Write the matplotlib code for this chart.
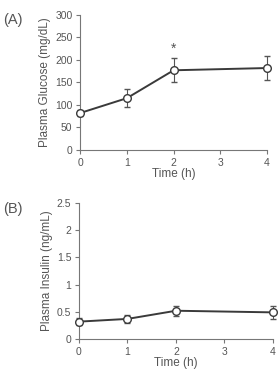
import numpy as np
import matplotlib
matplotlib.use("Agg")
import matplotlib.pyplot as plt

plt.rcParams['font.family'] = ['Liberation Sans', 'DejaVu Sans']

hours = [0, 1, 2, 4]
xticks = [0, 1, 2, 3, 4]

glucose = [82, 115, 177, 182]
glucose_err = [7, 20, 27, 27]
glucose_ticks = [0, 50, 100, 150, 200, 250, 300]

insulin = [0.32, 0.37, 0.52, 0.49]
insulin_err = [0.07, 0.07, 0.09, 0.12]
insulin_ticks = [0, 0.5, 1, 1.5, 2, 2.5]
insulin_labels = ['0', '0.5', '1', '1.5', '2', '2.5']

line_col = '#3a3a3a'
text_col = '#555555'

fig = plt.figure(figsize=(2.8, 3.73), dpi=100)
axA = fig.add_axes([0.286, 0.598, 0.668, 0.362])
axB = fig.add_axes([0.282, 0.091, 0.693, 0.365])


def style(ax):
    ax.spines['top'].set_visible(False)
    ax.spines['right'].set_visible(False)
    for s in ('left', 'bottom'):
        ax.spines[s].set_color('#777777')
        ax.spines[s].set_linewidth(0.8)
    ax.tick_params(colors='#777777', labelcolor=text_col, labelsize=7.5,
                   length=3, width=0.8, pad=2.5)
    ax.set_xlim(0, 4)
    ax.set_xticks(xticks)
    ax.set_xlabel('Time (h)', fontsize=8.5, color=text_col, labelpad=0)


def series(ax, y, err):
    ax.errorbar(hours, y, yerr=err, color=line_col, lw=1.4, elinewidth=0.8,
                ecolor='#555555', capsize=2.5, capthick=0.8, marker='o',
                markersize=5.5, markerfacecolor='white', markeredgecolor=line_col,
                markeredgewidth=1.0, clip_on=False, zorder=3)


series(axA, glucose, glucose_err)
style(axA)
axA.set_ylim(0, 300)
axA.set_yticks(glucose_ticks)
axA.set_ylabel('Plasma Glucose (mg/dL)', fontsize=8.5, color=text_col, labelpad=3)
axA.text(2, glucose[2] + glucose_err[2] + 6, '*', ha='center', va='bottom',
         fontsize=10, color=text_col)
fig.text(0.012, 0.935, '(A)', fontsize=10.5, color=text_col)

series(axB, insulin, insulin_err)
style(axB)
axB.set_ylim(0, 2.5)
axB.set_yticks(insulin_ticks)
axB.set_yticklabels(insulin_labels)
axB.set_ylabel('Plasma Insulin (ng/mL)', fontsize=8.5, color=text_col, labelpad=3)
fig.text(0.012, 0.43, '(B)', fontsize=10.5, color=text_col)

fig.savefig('out.png', dpi=100)
